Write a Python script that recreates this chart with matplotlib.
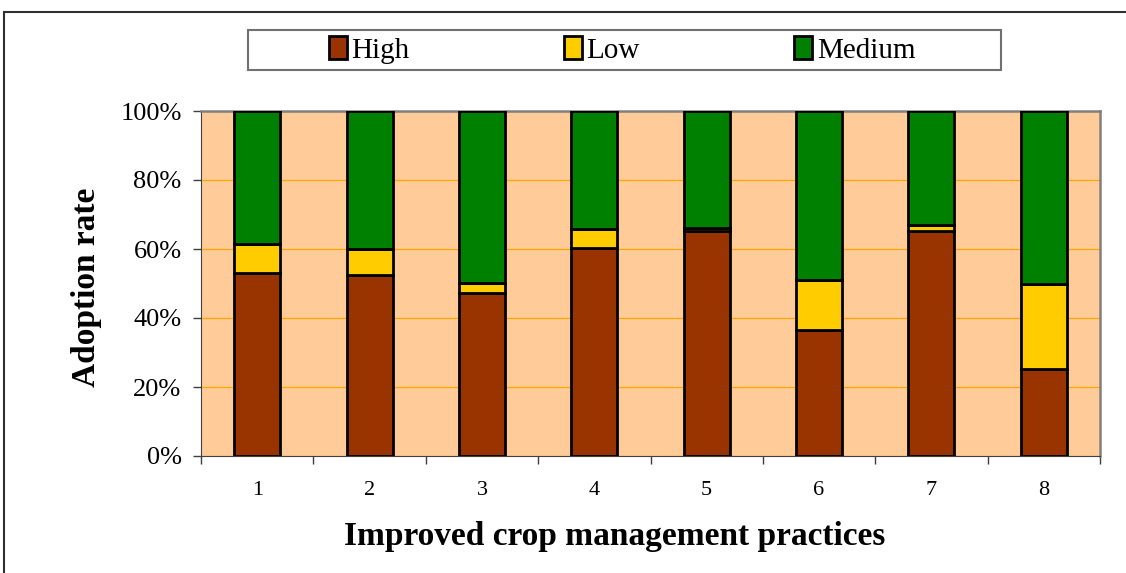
import numpy as np
import matplotlib.pyplot as plt
from matplotlib.patches import Rectangle
from matplotlib.ticker import FixedLocator, PercentFormatter

# Adoption shares (%) per practice
practices = ["1", "2", "3", "4", "5", "6", "7", "8"]
high = [53.1, 52.5, 47.3, 60.3, 65.2, 36.5, 65.2, 25.1]
low = [8.3, 7.5, 2.9, 5.5, 0.8, 14.5, 1.9, 24.7]
medium = [38.6, 40.0, 49.8, 34.2, 34.0, 49.0, 32.9, 50.2]

series_names = ["High", "Low", "Medium"]
colors = ["#993300", "#FFCC00", "#008000"]

plt.rcParams["font.family"] = ["Liberation Serif", "DejaVu Serif"]

W, H = 1126, 573
fig = plt.figure(figsize=(W / 100, H / 100), dpi=100)
ax = fig.add_axes([201 / W, 1 - 456 / H, (1100 - 201) / W, (456 - 111) / H])
ax.set_facecolor("#FFCC99")

x = np.arange(len(practices))
bottom = np.zeros(len(practices))
handles = []
for name, vals, col in zip(series_names, [high, low, medium], colors):
    b = ax.bar(x, vals, width=0.41, bottom=bottom, color=col,
               edgecolor="black", linewidth=2.0, label=name, zorder=3)
    handles.append(b)
    bottom += np.array(vals)

ax.set_xlim(-0.5, len(practices) - 0.5)
ax.set_ylim(0, 100)
ax.set_yticks(np.arange(0, 101, 20))
ax.yaxis.set_major_formatter(PercentFormatter(decimals=0))
ax.yaxis.grid(True, color="#FFA500", linewidth=0.9, zorder=0)

# category boundaries as ticks, labels centred under bars
ax.xaxis.set_major_locator(FixedLocator(np.arange(-0.5, len(practices), 1.0)))
ax.xaxis.set_minor_locator(FixedLocator(x))
ax.xaxis.set_major_formatter(plt.NullFormatter())
ax.set_xticks(x, practices, minor=True)
ax.tick_params(axis="x", which="major", length=6, width=1, color="#404040")
ax.tick_params(axis="x", which="minor", length=0, pad=18, labelsize=16)
ax.tick_params(axis="y", length=6, width=1, color="#404040", pad=8, labelsize=19)

for side in ["top", "right"]:
    ax.spines[side].set_color("#808080")
    ax.spines[side].set_linewidth(1.8)
ax.spines["left"].set_color("#404040")
ax.spines["bottom"].set_color("#404040")

fig.text(86 / W, 1 - 287 / H, "Adoption rate", rotation=90, ha="center",
         va="center", fontsize=24, fontweight="bold")
fig.text(615 / W, 1 - 537 / H, "Improved crop management practices",
         ha="center", va="center", fontsize=24, fontweight="bold")

# legend box
fig.patches.append(Rectangle((248 / W, 1 - 70 / H), (1001 - 248) / W, 40 / H,
                             transform=fig.transFigure, facecolor="white",
                             edgecolor="#707070", linewidth=1.5))
fig.legend(handles=handles, labels=series_names, ncol=3, frameon=False,
           loc="center", bbox_to_anchor=(622 / W, 1 - 50 / H),
           fontsize=21, handlelength=0.62, handleheight=0.85,
           handletextpad=0.15, columnspacing=5.3)

# outer frame
fig.patches.append(Rectangle((4 / W, -0.05), 1.1, 1 - 12 / H + 0.05,
                             transform=fig.transFigure, fill=False,
                             edgecolor="#303030", linewidth=1.5))

fig.savefig("out.png", dpi=100)
